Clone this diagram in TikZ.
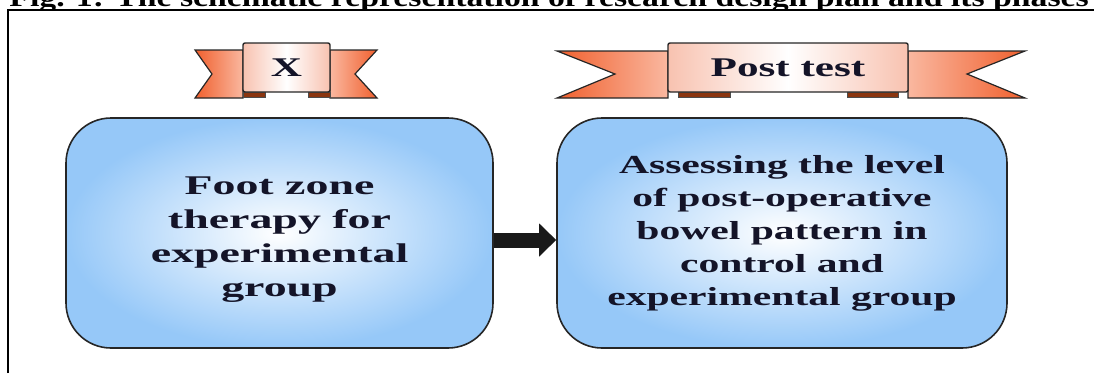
\documentclass[tikz,border=0pt]{standalone}
\usepackage{fontspec}
\setmainfont{Liberation Serif}
\newfontfamily\wfont[FakeStretch=1.6]{Liberation Serif}
\newfontfamily\wwfont[FakeStretch=1.7]{Liberation Serif}
\newfontfamily\capfont[FakeStretch=1.25]{Liberation Serif}
\usetikzlibrary{arrows.meta}
\definecolor{tailorange}{HTML}{F0602E}
\definecolor{taillight}{HTML}{FAB8A0}
\definecolor{boxpink}{HTML}{F8C2B0}
\definecolor{tabbrown}{HTML}{8A3510}
\definecolor{boxblue}{HTML}{96C8F8}
\definecolor{inktext}{HTML}{141428}
\tikzset{
  bluebox/.style={draw=black!85, line width=1.6pt, rounded corners=45pt,
    inner color=white, outer color=boxblue, minimum height=230pt,
    text=inktext, align=center, font=\wfont\bfseries\fontsize{26}{33}\selectfont},
  ribbonbox/.style={draw=black!85, line width=1.4pt, rounded corners=2pt,
    left color=boxpink, right color=boxpink, middle color=white,
    text=inktext, font=\wfont\bfseries\fontsize{27}{32}\selectfont},
  tailL/.style={draw=black!85, line width=1.2pt, left color=tailorange, right color=taillight},
  tailR/.style={draw=black!85, line width=1.2pt, left color=taillight, right color=tailorange},
  tab/.style={fill=tabbrown, draw=black!70, line width=0.6pt},
  flow/.style={line width=15pt, draw=black!90, -{Triangle[length=17pt,width=32pt]}},
  frameline/.style={line width=2.8pt, draw=black}
}
\begin{document}
\begin{tikzpicture}[x=1pt,y=-1pt]
\useasboundingbox (0,0) rectangle (1094,373);
% clipped caption above the frame
\begin{scope}
\clip (0,0) rectangle (1094,9);
\node[anchor=base east, inner sep=0pt, font=\capfont\bfseries\fontsize{27}{30}\selectfont] (caption) at (1089,6) {Fig. 1: The schematic representation of research design plan and its phases};
\end{scope}
% frame
\draw[frameline] (8,373) -- (8,10) -- (1094,10);

% ribbon X
\draw[tailL] (195,50) -- (243,50) -- (243,98) -- (195,98) -- (212,74) -- cycle;
\draw[tailR] (330,50) -- (377,50) -- (355,74) -- (377,98) -- (330,98) -- cycle;
\draw[tab] (243,92) rectangle (265,97);
\draw[tab] (308,92) rectangle (330,97);
\node[ribbonbox, minimum width=87pt, minimum height=49pt] (x) at (286.5,67.5) {X};

% ribbon Post test
\draw[tailL] (557,51) -- (668,51) -- (668,98) -- (557,98) -- (615,74) -- cycle;
\draw[tailR] (908,51) -- (1025,51) -- (967,74) -- (1025,98) -- (908,98) -- cycle;
\draw[tab] (678,92) rectangle (730,97);
\draw[tab] (847,92) rectangle (898,97);
\node[ribbonbox, minimum width=240pt, minimum height=49pt] (post) at (788,67.5) {Post test};

% boxes
\node[bluebox, minimum width=427pt, font=\wwfont\bfseries\fontsize{27}{34}\selectfont] (boxL) at (279.5,233) {\\[-4pt]Foot zone\\therapy for\\experimental\\group};
\node[bluebox, minimum width=450pt] (boxR) at (782,233) {Assessing the level\\of post-operative\\bowel pattern in\\control and\\experimental group};

% arrow
\draw[flow] ([yshift=-7pt]boxL.east) -- ([yshift=-7pt]boxL.east -| boxR.west);
\end{tikzpicture}
\end{document}
